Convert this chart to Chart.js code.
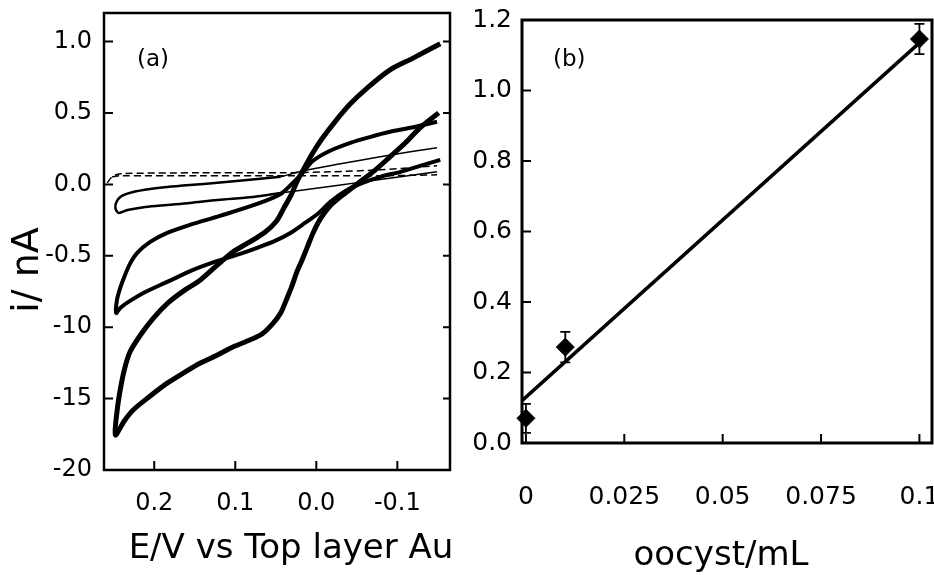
<!DOCTYPE html>
<html>
<head>
<meta charset="utf-8">
<title>CV / oocyst calibration</title>
<script src="https://cdn.jsdelivr.net/npm/chart.js@4.4.1/dist/chart.umd.min.js"></script>
<style>
  html, body { margin: 0; padding: 0; background: #fff; }
  #wrap { position: relative; width: 934px; height: 575px; overflow: hidden; }
  canvas { position: absolute; top: 0; }
  #cvA { left: 0; }
  #cvB { left: 467px; }
</style>
</head>
<body>
<div id="wrap">
  <canvas id="cvA" width="467" height="575"></canvas>
  <canvas id="cvB" width="467" height="575"></canvas>
</div>
<script>
// ---------- panel (a): voltammograms, [E (V), i] pairs ----------
const bigLower = [[-0.151,0.501],[-0.128,0.396],[-0.110,0.291],[-0.091,0.193],[-0.073,0.102],[-0.054,0.018],
  [-0.036,-0.060],[-0.017,-0.151],[-0.005,-0.242],[0.004,-0.340],[0.011,-0.438],[0.017,-0.522],[0.024,-0.613],
  [0.030,-0.711],[0.037,-0.809],[0.044,-0.900],[0.054,-0.977],[0.067,-1.048],[0.082,-1.090],[0.103,-1.139],
  [0.122,-1.195],[0.143,-1.251],[0.162,-1.314],[0.184,-1.392],[0.205,-1.482],[0.226,-1.580],[0.237,-1.657],
  [0.248,-1.755]];
const bigUpper = [[0.248,-1.755],[0.246,-1.594],[0.242,-1.440],[0.237,-1.300],[0.230,-1.174],[0.217,-1.055],
  [0.201,-0.936],[0.183,-0.830],[0.162,-0.739],[0.143,-0.669],[0.122,-0.564],[0.103,-0.473],[0.082,-0.403],
  [0.063,-0.333],[0.049,-0.256],[0.040,-0.165],[0.031,-0.074],[0.024,0.018],[0.016,0.102],[0.005,0.214],
  [-0.007,0.319],[-0.024,0.445],[-0.042,0.564],[-0.063,0.676],[-0.091,0.802],[-0.120,0.886],[-0.153,0.985]];
const midLower = [[-0.153,0.172],[-0.128,0.130],[-0.104,0.088],[-0.079,0.053],[-0.054,0.004],[-0.036,-0.046],
  [-0.017,-0.123],[-0.003,-0.200],[0.014,-0.270],[0.032,-0.340],[0.051,-0.396],[0.073,-0.445],[0.094,-0.487],
  [0.122,-0.536],[0.152,-0.599],[0.184,-0.683],[0.211,-0.753],[0.230,-0.816],[0.242,-0.865],[0.247,-0.901]];
const midUpper = [[0.247,-0.901],[0.246,-0.809],[0.242,-0.725],[0.237,-0.648],[0.230,-0.557],[0.221,-0.480],
  [0.205,-0.403],[0.184,-0.340],[0.156,-0.284],[0.119,-0.221],[0.073,-0.137],[0.044,-0.067],[0.030,0.004],
  [0.017,0.081],[0.004,0.165],[-0.017,0.235],[-0.042,0.291],[-0.067,0.333],[-0.091,0.368],[-0.116,0.396],
  [-0.149,0.438]];
const smallLoop = [[0.044,-0.060],[0.078,-0.088],[0.122,-0.109],[0.156,-0.130],[0.184,-0.144],[0.211,-0.158],
  [0.233,-0.179],[0.244,-0.200],[0.248,-0.165],[0.246,-0.116],[0.240,-0.081],[0.226,-0.053],[0.205,-0.032],
  [0.184,-0.018],[0.156,-0.004],[0.122,0.011],[0.082,0.032],[0.044,0.053]];
const thinUpper = [[0.044,0.053],[0.016,0.095],[-0.030,0.144],[-0.079,0.193],[-0.116,0.228],[-0.149,0.256]];
const thinLower = [[0.044,-0.060],[0.007,-0.032],[-0.030,-0.004],[-0.067,0.025],[-0.104,0.053],[-0.149,0.088]];
const dashUpper = [[0.258,0.011],[0.252,0.053],[0.242,0.074],[0.143,0.081],[0.044,0.081],[-0.017,0.088],
  [-0.079,0.102],[-0.149,0.130]];
const dashLower = [[0.252,0.053],[0.242,0.060],[0.143,0.060],[0.044,0.060],[-0.017,0.060],[-0.079,0.060],
  [-0.149,0.067]];

const E_TICKS = [0.2, 0.1, 0.0, -0.1];
const E_TICK_LABELS = ["0.2", "0.1", "0.0", "-0.1"];
const I_TICKS = [-2.0, -1.5, -1.0, -0.5, 0.0, 0.5, 1.0];
const I_TICK_LABELS = ["-20", "-15", "-10", "-0.5", "0.0", "0.5", "1.0"];

// ---------- panel (b): calibration ----------
const conc = [0, 0.01, 0.1];
const current = [0.07, 0.272, 1.146];
const currentErr = [0.041, 0.043, 0.043];
const fitConc = [-0.001, 0.1];
const fitCurrent = [0.12, 1.135];
const CONC_TICKS = [0, 0.025, 0.05, 0.075, 0.1];
const CONC_TICK_LABELS = ["0", "0.025", "0.05", "0.075", "0.1"];
const B_TICKS = [0, 0.2, 0.4, 0.6, 0.8, 1.0, 1.2];
const B_TICK_LABELS = ["0.0", "0.2", "0.4", "0.6", "0.8", "1.0", "1.2"];

const FONT = "DejaVu Sans";
const toXY = (pairs) => pairs.map(([x, y]) => ({ x, y }));

// frame + inward tick marks
const framePlugin = {
  id: "frame",
  afterDraw(chart, args, opts) {
    const { ctx, chartArea: a, scales } = chart;
    ctx.save();
    ctx.strokeStyle = "#000";
    ctx.lineWidth = opts.width;
    ctx.strokeRect(a.left, a.top, a.right - a.left, a.bottom - a.top);
    ctx.lineWidth = opts.tickWidth;
    ctx.beginPath();
    scales.x.ticks.forEach((t) => {
      const px = scales.x.getPixelForValue(t.value);
      if (px - a.left < 3 || a.right - px < 3) return;
      ctx.moveTo(px, a.bottom);
      ctx.lineTo(px, a.bottom - opts.tickLen);
    });
    scales.y.ticks.forEach((t) => {
      const py = scales.y.getPixelForValue(t.value);
      if (py - a.top < 3 || a.bottom - py < 3) return;
      ctx.moveTo(a.left, py);
      ctx.lineTo(a.left + opts.tickLen, py);
      if (opts.rightTicks) {
        ctx.moveTo(a.right, py);
        ctx.lineTo(a.right - opts.rightTicks, py);
      }
    });
    ctx.stroke();
    ctx.restore();
  },
};

// axis titles and panel letters
const textPlugin = {
  id: "panelText",
  afterDraw(chart, args, opts) {
    const ctx = chart.ctx;
    opts.items.forEach((it) => {
      ctx.save();
      ctx.font = it.font;
      ctx.fillStyle = "#000";
      ctx.textAlign = it.align || "center";
      ctx.textBaseline = it.baseline || "alphabetic";
      ctx.translate(it.x, it.y);
      if (it.rotate) ctx.rotate(it.rotate);
      ctx.fillText(it.text, 0, 0);
      ctx.restore();
    });
  },
};

const errorBars = {
  id: "errorBars",
  afterDatasetsDraw(chart, args, opts) {
    const { ctx, scales: { x, y } } = chart;
    ctx.save();
    ctx.strokeStyle = "#000";
    ctx.lineWidth = opts.width;
    ctx.beginPath();
    conc.forEach((c, i) => {
      const px = x.getPixelForValue(c);
      const top = y.getPixelForValue(current[i] + currentErr[i]);
      const bot = y.getPixelForValue(current[i] - currentErr[i]);
      ctx.moveTo(px, top); ctx.lineTo(px, bot);
      ctx.moveTo(px - opts.cap, top); ctx.lineTo(px + opts.cap, top);
      ctx.moveTo(px - opts.cap, bot); ctx.lineTo(px + opts.cap, bot);
    });
    ctx.stroke();
    ctx.restore();
  },
};

function curve(pairs, width, dash) {
  return {
    data: toXY(pairs),
    showLine: true,
    borderColor: "#000",
    borderWidth: width,
    borderDash: dash || [],
    pointRadius: 0,
    tension: 0.3,
    fill: false,
  };
}

// ---------- chart (a) ----------
new Chart(document.getElementById("cvA"), {
  type: "scatter",
  data: {
    datasets: [
      curve(bigLower.concat(bigUpper.slice(1)), 5),
      curve(midLower.concat(midUpper.slice(1)), 4),
      curve(smallLoop, 2.5),
      curve(thinUpper, 1.5),
      curve(thinLower, 1.5),
      curve(dashUpper, 1.5, [7, 4]),
      curve(dashLower, 1.5, [7, 4]),
    ],
  },
  options: {
    responsive: false,
    animation: false,
    devicePixelRatio: 1,
    layout: { autoPadding: false, padding: { top: 13, right: 17, left: 0, bottom: 0 } },
    plugins: {
      legend: { display: false },
      tooltip: { enabled: false },
      frame: { width: 2.5, tickWidth: 2, tickLen: 9, rightTicks: 7 },
      panelText: {
        items: [
          { text: "E/V vs Top layer Au", x: 291, y: 558, font: "34px " + FONT },
          { text: "i/ nA", x: 28, y: 270, font: "38px " + FONT, rotate: -Math.PI / 2, baseline: "middle" },
          { text: "(a)", x: 137, y: 60, font: "23px " + FONT, align: "left", baseline: "middle" },
        ],
      },
    },
    scales: {
      x: {
        type: "linear",
        reverse: true,
        min: -0.165,
        max: 0.262,
        grid: { display: false, drawTicks: false },
        border: { display: false },
        ticks: {
          autoSkip: false, maxRotation: 0, padding: 19, color: "#000",
          font: { family: FONT, size: 24 },
          callback: (v, i) => E_TICK_LABELS[i],
        },
        afterBuildTicks: (ax) => { ax.ticks = E_TICKS.map((v) => ({ value: v })); },
        afterFit: (ax) => { ax.height = 105; ax.paddingLeft = 0; ax.paddingRight = 0; },
      },
      y: {
        type: "linear",
        min: -2.0,
        max: 1.2,
        grid: { display: false, drawTicks: false },
        border: { display: false },
        ticks: {
          autoSkip: false, padding: 12, color: "#000",
          font: { family: FONT, size: 24 },
          callback: (v, i) => I_TICK_LABELS[i],
        },
        afterBuildTicks: (ax) => { ax.ticks = I_TICKS.map((v) => ({ value: v })); },
        afterFit: (ax) => { ax.width = 104; ax.paddingTop = 0; ax.paddingBottom = 0; },
      },
    },
  },
  plugins: [framePlugin, textPlugin],
});

// ---------- chart (b) ----------
new Chart(document.getElementById("cvB"), {
  type: "scatter",
  data: {
    datasets: [
      {
        data: fitConc.map((x, i) => ({ x, y: fitCurrent[i] })),
        showLine: true,
        borderColor: "#000",
        borderWidth: 3.5,
        pointRadius: 0,
      },
      {
        data: conc.map((x, i) => ({ x, y: current[i] })),
        pointStyle: "rectRot",
        pointRadius: 9,
        backgroundColor: "#000",
        borderColor: "#000",
        borderWidth: 1,
        clip: false,
      },
    ],
  },
  options: {
    responsive: false,
    animation: false,
    devicePixelRatio: 1,
    layout: { autoPadding: false, padding: { top: 20, right: 2, left: 0, bottom: 0 } },
    plugins: {
      legend: { display: false },
      tooltip: { enabled: false },
      frame: { width: 3, tickWidth: 2, tickLen: 9, rightTicks: 0 },
      errorBars: { width: 1.8, cap: 5 },
      panelText: {
        items: [
          { text: "oocyst/mL", x: 254, y: 565, font: "34px " + FONT },
          { text: "(b)", x: 86, y: 60, font: "23px " + FONT, align: "left", baseline: "middle" },
        ],
      },
    },
    scales: {
      x: {
        type: "linear",
        min: -0.001,
        max: 0.1032,
        grid: { display: false, drawTicks: false },
        border: { display: false },
        ticks: {
          autoSkip: false, maxRotation: 0, padding: 39, color: "#000",
          font: { family: FONT, size: 25 },
          callback: (v, i) => CONC_TICK_LABELS[i],
        },
        afterBuildTicks: (ax) => { ax.ticks = CONC_TICKS.map((v) => ({ value: v })); },
        afterFit: (ax) => { ax.height = 132; ax.paddingLeft = 0; ax.paddingRight = 0; },
      },
      y: {
        type: "linear",
        min: 0,
        max: 1.2,
        grid: { display: false, drawTicks: false },
        border: { display: false },
        ticks: {
          autoSkip: false, padding: 10, color: "#000",
          font: { family: FONT, size: 25 },
          callback: (v, i) => B_TICK_LABELS[i],
        },
        afterBuildTicks: (ax) => { ax.ticks = B_TICKS.map((v) => ({ value: v })); },
        afterFit: (ax) => { ax.width = 55; ax.paddingTop = 0; ax.paddingBottom = 0; },
      },
    },
  },
  plugins: [framePlugin, textPlugin, errorBars],
});
</script>
</body>
</html>
